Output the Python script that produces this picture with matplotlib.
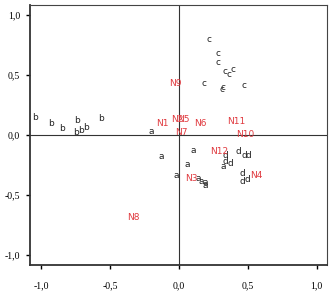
import matplotlib
matplotlib.use("Agg")
import matplotlib.pyplot as plt

# points (category letters)
a_x = [-0.204, 0.104, -0.126, 0.063, -0.022, 0.14, 0.165, 0.194, 0.194, 0.322]
a_y = [0.023, -0.133, -0.183, -0.253, -0.342, -0.363, -0.39, -0.40, -0.425, -0.267]
b_x = [-1.05, -0.933, -0.85, -0.744, -0.749, -0.715, -0.676, -0.565]
b_y = [0.145, 0.089, 0.048, 0.117, 0.017, 0.033, 0.062, 0.133]
c_x = [0.218, 0.286, 0.286, 0.335, 0.366, 0.395, 0.184, 0.322, 0.313, 0.473]
c_y = [0.797, 0.678, 0.60, 0.525, 0.498, 0.545, 0.422, 0.392, 0.373, 0.408]
d_x = [0.431, 0.475, 0.507, 0.335, 0.335, 0.371, 0.46, 0.46, 0.50]
d_y = [-0.142, -0.178, -0.178, -0.178, -0.225, -0.244, -0.322, -0.392, -0.372]

# N labels
n_names = ["N1", "N2", "N3", "N4", "N5", "N6", "N7", "N8", "N9", "N10", "N11", "N12"]
n_x = [-0.12, -0.01, 0.092, 0.565, 0.03, 0.153, 0.02, -0.332, -0.029, 0.485, 0.415, 0.291]
n_y = [0.089, 0.125, -0.363, -0.344, 0.125, 0.089, 0.017, -0.69, 0.428, 0.003, 0.108, -0.142]

ticks = [-1.0, -0.5, 0.0, 0.5, 1.0]
tick_labels = ["-1,0", "-0,5", "0,0", "0,5", "1,0"]

fig = plt.figure(figsize=(3.29, 2.97), dpi=100)
ax = fig.add_axes([0.091, 0.108, 0.903, 0.875])

for xs, ys, lab in [(a_x, a_y, "a"), (b_x, b_y, "b"), (c_x, c_y, "c"), (d_x, d_y, "d")]:
    for x, y in zip(xs, ys):
        ax.text(x, y, lab, fontsize=6.5, color="#222222", ha="center", va="center")

for name, x, y in zip(n_names, n_x, n_y):
    ax.text(x, y, name, fontsize=6.5, color="#e0393e", ha="center", va="center")

ax.axhline(0, color="#333333", lw=0.8)
ax.axvline(0, color="#333333", lw=0.8)

ax.set_xlim(-1.084, 1.076)
ax.set_ylim(-1.086, 1.08)
ax.set_xticks(ticks)
ax.set_xticklabels(tick_labels)
ax.set_yticks(ticks)
ax.set_yticklabels(tick_labels)
ax.tick_params(direction="out", length=3, width=1, labelsize=7)
ax.tick_params(axis="x", pad=9)
ax.tick_params(axis="y", pad=4)
for lbl in ax.get_xticklabels() + ax.get_yticklabels():
    lbl.set_family("Liberation Serif")
for side in ["top", "right"]:
    ax.spines[side].set_color("#444444")
    ax.spines[side].set_linewidth(0.8)
for side in ["left", "bottom"]:
    ax.spines[side].set_color("#333333")
    ax.spines[side].set_linewidth(1.3)

fig.savefig("out.png", dpi=100)
